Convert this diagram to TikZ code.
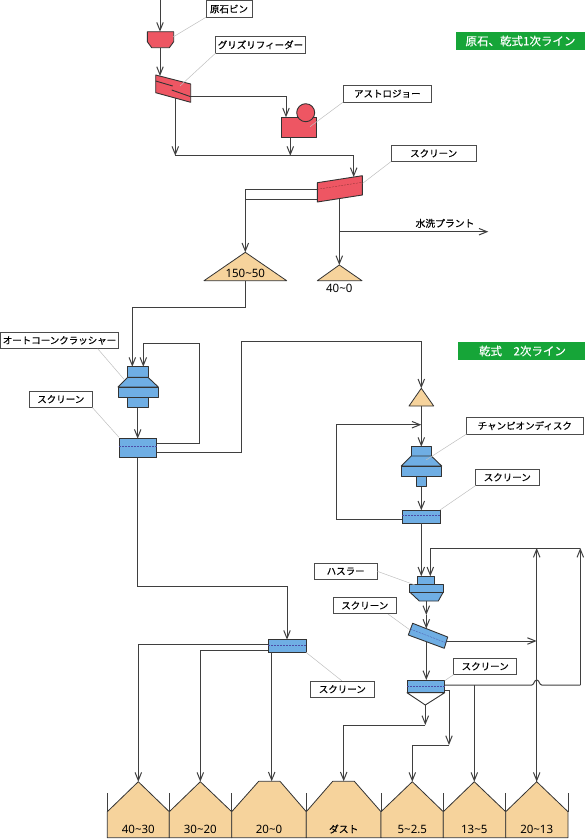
\documentclass[tikz,border=0pt]{standalone}
\usepackage{fontspec}
\setmainfont{Noto Sans CJK JP}
\newfontfamily\tagfont{Noto Sans CJK JP}[RawFeature={embolden=0.35}]
\newfontfamily\numfont{Noto Sans}
\usepackage{tikz}
\usetikzlibrary{positioning, arrows.meta, calc}
\definecolor{lineC}{HTML}{3F3F3F}
\definecolor{redC}{HTML}{EE5663}
\definecolor{blueC}{HTML}{6FAEE4}
\definecolor{tanC}{HTML}{F6D39C}
\definecolor{greenC}{HTML}{16A538}
\newcommand{\til}{\textasciitilde}

\begin{document}
\begin{tikzpicture}[
    x=1pt, y=-1pt,
    flow/.style={draw=lineC, line width=1pt},
    arrow/.style={flow, -{Straight Barb[length=8pt,width=6.5pt]}},
    redunit/.style={draw=black!80, fill=redC, line width=0.9pt, line join=round},
    blueunit/.style={draw=black!80, fill=blueC, line width=0.9pt, line join=round},
    pile/.style={draw=black!80, fill=tanC, line width=0.8pt, line join=round},
    screenbox/.style={rectangle, draw=black!80, fill=blueC, line width=0.9pt, inner sep=0pt, outer sep=0pt},
    mesh/.style={draw=blue!50!black!70, line width=0.3pt, dash pattern=on 2pt off 1pt},
    meshred/.style={draw=red!40!black!80, line width=0.3pt, dash pattern=on 2pt off 1pt},
    tag/.style={rectangle, draw=black!70, fill=white, line width=0.8pt, inner sep=0pt, outer sep=0pt,
                minimum height=16.5pt, font=\tagfont\fontsize{9.5}{11}\selectfont},
    leader/.style={draw=black!25, line width=0.5pt},
    banner/.style={rectangle, fill=greenC, text=white, inner sep=0pt, outer sep=0pt,
                   minimum width=129pt, minimum height=18pt, font=\tagfont\fontsize{11.5}{13}\selectfont},
    pilelabel/.style={inner sep=0pt, font=\numfont\fontsize{11.5}{13}\selectfont}
]
    \useasboundingbox (0,0) rectangle (585,839);

    % --- Banners ---
    \node[banner] (lineA) at (520.5,41) {原石、乾式1次ライン};
    \node[banner] (lineB) at (522.5,351) {乾式\hspace{1em}2次ライン};

    % --- Ports ---
    \coordinate (feedIn) at (160,0);
    \coordinate (binTop) at (160,31.7);
    \coordinate (binBot) at (160,47.7);
    \coordinate (gfTop) at (160,76);
    \coordinate (gfSide) at (190.7,96);
    \coordinate (gfBot) at (175.3,98);
    \coordinate (jawTop) at (286,117.3);
    \coordinate (jawBot) at (290.3,137.7);
    \coordinate (cornerA) at (286,96);
    \coordinate (joinA) at (175.3,155.7);
    \coordinate (joinB) at (290.3,155.7);
    \coordinate (cornerB) at (353.7,155.7);
    \coordinate (scrRedTop) at (353.7,177);
    \coordinate (scrRedU) at (317.3,189.3);
    \coordinate (scrRedL) at (317.3,199.3);
    \coordinate (cornerC) at (245.3,189.3);
    \coordinate (joinC) at (245.3,199.3);
    \coordinate (scrRedBot) at (339.3,199);
    \coordinate (joinD) at (339.3,231.7);
    \coordinate (washOut) at (488.3,231.7);
    \coordinate (pileA) at (245.3,252.3);
    \coordinate (pileAb) at (245.3,280.7);
    \coordinate (pileB) at (339.3,265);
    \coordinate (cornerD) at (245.3,307.3);
    \coordinate (cornerE) at (132.3,307.3);
    \coordinate (coneAin) at (132.3,366.7);
    \coordinate (coneAret) at (143.3,366.7);
    \coordinate (coneAbot) at (137.7,407.3);
    \coordinate (cornerF) at (143.3,343.7);
    \coordinate (cornerG) at (199,343.7);
    \coordinate (cornerH) at (199,443.7);
    \coordinate (scrAu) at (156.7,443.7);
    \coordinate (scrAl) at (156.7,452.7);
    \coordinate (cornerI) at (241.3,452.7);
    \coordinate (cornerJ) at (241.3,341.7);
    \coordinate (cornerK) at (421.3,341.7);
    \coordinate (pileC) at (421.3,388.3);
    \coordinate (pileCb) at (421.3,406);
    \coordinate (joinE) at (421.3,424.7);
    \coordinate (coneBin) at (421.3,446.7);
    \coordinate (coneBbot) at (421.3,486.7);
    \coordinate (cornerL) at (336,424.7);
    \coordinate (cornerM) at (336,519.3);
    \coordinate (scrBw) at (402.3,519.3);
    \coordinate (hasIn) at (421.3,576.3);
    \coordinate (hasRet) at (430.3,576.3);
    \coordinate (cornerN) at (430.3,548);
    \coordinate (retA) at (536.7,548);
    \coordinate (retB) at (580.3,548);
    \coordinate (hasBot) at (426.3,601);
    \coordinate (hasMid) at (426.3,615);
    \coordinate (tiltTop) at (426.3,628.6);
    \coordinate (tiltBot) at (426.3,642);
    \coordinate (tiltE) at (445.5,641);
    \coordinate (joinF) at (536.7,641);
    \coordinate (scrCtop) at (426.3,680);
    \coordinate (scrCu) at (444.7,685);
    \coordinate (scrCl) at (444.7,690);
    \coordinate (joinG) at (474.3,685);
    \coordinate (hopL) at (531.7,685);
    \coordinate (hopT) at (536.7,680);
    \coordinate (hopR) at (541.7,685);
    \coordinate (cornerO) at (580.3,685);
    \coordinate (cornerP) at (449,690);
    \coordinate (joinH) at (449,745);
    \coordinate (cornerQ) at (412.3,745);
    \coordinate (funnelTip) at (425.3,705);
    \coordinate (joinI) at (425.3,725);
    \coordinate (cornerR) at (343.7,725);
    \coordinate (scrAb) at (137.7,457.7);
    \coordinate (cornerS) at (137.7,586);
    \coordinate (cornerT) at (287,586);
    \coordinate (scrDu) at (268.3,644);
    \coordinate (scrDl) at (268.3,650);
    \coordinate (scrDb) at (271.7,652.3);
    \coordinate (cornerU) at (138.3,644);
    \coordinate (cornerV) at (200.3,650);

    \coordinate (topA) at (138.3,781.7);
    \coordinate (topB) at (200.3,781.7);
    \coordinate (topC) at (271.7,781.3);
    \coordinate (topD) at (343.7,781.3);
    \coordinate (topE) at (412.3,781.7);
    \coordinate (topF) at (474.3,781.7);
    \coordinate (topG) at (536.7,781.7);

    % --- Screens ---
    \node[screenbox, minimum width=37.4pt, minimum height=19pt] (scrA) at (138,448.2) {};
    \node[screenbox, minimum width=38pt, minimum height=13pt] (scrB) at (421.3,516.8) {};
    \node[screenbox, minimum width=37.7pt, minimum height=12.6pt] (scrD) at (287.2,646) {};

    % --- Connectors ---
    \draw[arrow] (feedIn) -- (binTop);
    \draw[arrow] (binBot) -- (gfTop);
    \draw[arrow] (gfSide) -- (cornerA) -- (jawTop);
    \draw[arrow] (gfBot) -- (joinA);
    \draw[arrow] (jawBot) -- (joinB);
    \draw[arrow] (joinA) -- (cornerB) -- (scrRedTop);
    \draw[flow] (scrRedU) -- (cornerC) -- (joinC);
    \draw[flow] (scrRedL) -- (joinC);
    \draw[arrow] (joinC) -- (pileA);
    \draw[arrow] (scrRedBot) -- (pileB);
    \draw[arrow] (joinD) -- (washOut);
    \draw[arrow] (pileAb) -- (cornerD) -- (cornerE) -- (coneAin);
    \draw[arrow] (scrAu) -- (cornerH) -- (cornerG) -- (cornerF) -- (coneAret);
    \draw[arrow] (coneAbot) -- (scrA.north -| coneAbot);
    \draw[arrow] (scrAl) -- (cornerI) -- (cornerJ) -- (cornerK) -- (pileC);
    \draw[arrow] (pileCb) -- (coneBin);
    \draw[arrow] (scrBw) -- (cornerM) -- (cornerL) -- (joinE);
    \draw[arrow] (coneBbot) -- (scrB.north);
    \draw[arrow] (scrB.south) -- (hasIn);
    \draw[arrow] (retB) -- (cornerN) -- (hasRet);
    \draw[arrow] (cornerO) -- (retB);
    \draw[arrow] (topG) -- (retA);
    \draw[arrow] (joinF) -- (topG);
    \draw[arrow] (hasBot) -- (hasMid);
    \draw[arrow] (hasMid) -- (tiltTop);
    \draw[arrow] (tiltE) -- (joinF);
    \draw[arrow] (tiltBot) -- (scrCtop);
    \draw[flow] (scrCu) -- (hopL) .. controls (534.2,685) and (534,680) .. (hopT)
      .. controls (539.4,680) and (539.2,685) .. (hopR) -- (cornerO);
    \draw[arrow] (joinG) -- (topF);
    \draw[arrow] (scrCl) -- (cornerP) -- (joinH);
    \draw[arrow] (joinH) -- (cornerQ) -- (topE);
    \draw[arrow] (funnelTip) -- (joinI);
    \draw[arrow] (joinI) -- (cornerR) -- (topD);
    \draw[arrow] (scrAb) -- (cornerS) -- (cornerT) -- (scrD.north -| cornerT);
    \draw[arrow] (scrDu) -- (cornerU) -- (topA);
    \draw[arrow] (scrDl) -- (cornerV) -- (topB);
    \draw[arrow] (scrDb) -- (topC);

    % --- Primary units ---
    \draw[redunit] (147.3,31.7) -- (173.7,31.7) -- (173.7,41.7) -- (169.3,47.7)
      -- (151.7,47.7) -- (147.3,41.7) -- cycle;
    \draw[redunit] (155.7,75) -- (190.7,84) -- (190.7,102.3) -- (155.7,92.7) -- cycle;
    \draw[draw=black!80, line width=0.9pt] (155.7,81) -- (172.7,86);
    \draw[draw=black!80, line width=0.9pt] (171.7,90) -- (190.7,96.7);
    \draw[redunit] (281,117.3) rectangle (316.7,137.7);
    \draw[redunit] (305.7,112.7) circle (9);
    \draw[redunit] (317.3,182.7) -- (362.3,175.7) -- (362.3,195) -- (317.3,202) -- cycle;
    \draw[meshred] (317.3,189.3) -- (362.3,182.3);

    % --- Piles ---
    \draw[pile] (204,280.7) -- (245.3,252.3) -- (286.7,280.7) -- cycle;
    \node[pilelabel] (lblA) at (245.3,273) {150\til50};
    \draw[pile] (317.3,280.7) -- (339.3,265) -- (362,280.7) -- cycle;
    \node[pilelabel] (lblB) at (339.3,288) {40\til0};
    \draw[pile] (409,406) -- (421.3,388.3) -- (433.7,406) -- cycle;

    % --- Secondary units ---
    \draw[blueunit] (127.7,366.7) rectangle (148,377.3);
    \draw[blueunit] (127.3,397) rectangle (148.7,407.3);
    \draw[blueunit] (127.7,377.3) -- (148,377.3) -- (158.3,387) -- (118,387) -- cycle;
    \draw[blueunit] (118,387) rectangle (158.3,397);
    \draw[mesh] (119.3,446.3) -- (156.7,446.3);

    \draw[blueunit] (411.3,446.7) rectangle (431.3,456);
    \draw[blueunit] (416.7,476.7) rectangle (426.3,486.7);
    \draw[blueunit] (411.3,456) -- (431.3,456) -- (441.7,466) -- (401.3,466) -- cycle;
    \draw[blueunit] (401.3,466) rectangle (441.7,476.7);
    \draw[mesh] (402.3,515) -- (440.3,515);

    \draw[blueunit] (417.7,576.3) rectangle (434.7,584);
    \draw[blueunit] (409.7,592) -- (443.3,592) -- (438.3,601) -- (419.3,601) -- cycle;
    \draw[blueunit] (409.7,584) rectangle (443.3,592);
    \draw[blueunit] (412.7,623.3) -- (447.7,637) -- (444.3,648.3) -- (408.3,635) -- cycle;
    \draw[mesh] (410.5,629.2) -- (446,642.7);

    \draw[draw=black!80, fill=white, line width=0.9pt, line join=round]
      (407,692.7) -- (444.7,692.7) -- (funnelTip) -- cycle;
    \node[screenbox, minimum width=37.7pt, minimum height=12.7pt] (scrC) at (425.8,686.3) {};
    \draw[mesh] (407,686) -- (444.7,686);

    \draw[mesh] (268.3,645) -- (306,645);

    % --- Tags ---
    \node[tag, minimum width=46pt] (tagBin) at (229,9) {原石ビン};
    \node[tag, minimum width=89.6pt] (tagGrizzly) at (260.5,44.8) {グリズリフィーダー};
    \node[tag, minimum width=88pt] (tagJaw) at (387.3,93.7) {アストロジョー};
    \node[tag, minimum width=85.3pt] (tagScrRed) at (433.7,153.3) {スクリーン};
    \node[tag, minimum width=117.6pt] (tagConeA) at (59.5,340.5) {オートコーンクラッシャー};
    \node[tag, minimum width=63pt] (tagScrA) at (60.8,399.2) {スクリーン};
    \node[tag, minimum width=116.3pt] (tagConeB) at (524.8,425.7) {チャンピオンディスク};
    \node[tag, minimum width=63.3pt] (tagScrB) at (507.3,477.3) {スクリーン};
    \node[tag, minimum width=63.3pt] (tagHas) at (345.7,571.3) {ハスラー};
    \node[tag, minimum width=63pt] (tagTilt) at (364.8,605.5) {スクリーン};
    \node[tag, minimum width=63pt] (tagScrC) at (485.2,666.3) {スクリーン};
    \node[tag, minimum width=63.3pt] (tagScrD) at (342.3,689.2) {スクリーン};
    \node[inner sep=0pt, font=\tagfont\fontsize{9.8}{11}\selectfont] (wash) at (445,223.3) {水洗プラント};

    % --- Leaders ---
    \coordinate (hitBin) at (173,37);
    \coordinate (hitGrizzly) at (180,86);
    \coordinate (hitJaw) at (310,126.7);
    \coordinate (hitScrRed) at (362.7,183.3);
    \coordinate (hitConeA) at (124,379.3);
    \coordinate (hitScrA) at (119,437.3);
    \coordinate (hitConeB) at (426,460);
    \coordinate (hitScrB) at (440,510);
    \coordinate (hitHas) at (415,585);
    \coordinate (hitTilt) at (410,630);
    \coordinate (hitScrC) at (444.7,680.7);
    \coordinate (hitScrD) at (306,652.3);
    \coordinate (footConeA) at (97.7,348.7);
    \coordinate (footTilt) at (388,614);
    \coordinate (footScrD) at (341.7,680.7);

    \draw[leader] (tagBin.south west) -- (hitBin);
    \draw[leader] (tagGrizzly.south west) -- (hitGrizzly);
    \draw[leader] (tagJaw.south west) -- (hitJaw);
    \draw[leader] (tagScrRed.south west) -- (hitScrRed);
    \draw[leader] (footConeA) -- (hitConeA);
    \draw[leader] (tagScrA.south east) -- (hitScrA);
    \draw[leader] (tagConeB.south west) -- (hitConeB);
    \draw[leader] (tagScrB.south west) -- (hitScrB);
    \draw[leader] (tagHas.east) -- (hitHas);
    \draw[leader] (footTilt) -- (hitTilt);
    \draw[leader] (tagScrC.south west) -- (hitScrC);
    \draw[leader] (footScrD) -- (hitScrD);

    % --- Bins ---
    \draw[pile] (107.3,811.7) -- (topA) -- (169.3,811.7) -- (169.3,837.7) -- (107.3,837.7) -- cycle;
    \draw[pile] (169.3,811.7) -- (topB) -- (231.7,811.7) -- (231.7,837.7) -- (169.3,837.7) -- cycle;
    \draw[pile] (231.7,811.7) -- (258.7,781.3) -- (280,781.3) -- (306.3,811.7) -- (306.3,837.7) -- (231.7,837.7) -- cycle;
    \draw[pile] (306.3,811.7) -- (332.7,781.3) -- (354.3,781.3) -- (381,811.7) -- (381,837.7) -- (306.3,837.7) -- cycle;
    \draw[pile] (381,811.7) -- (topE) -- (443.3,811.7) -- (443.3,837.7) -- (381,837.7) -- cycle;
    \draw[pile] (443.3,811.7) -- (topF) -- (505.7,811.7) -- (505.7,837.7) -- (443.3,837.7) -- cycle;
    \draw[pile] (505.7,811.7) -- (topG) -- (568,811.7) -- (568,837.7) -- (505.7,837.7) -- cycle;

    \draw[flow] (107.3,793.3) -- (107.3,811.7);
    \draw[flow] (169.3,793.3) -- (169.3,811.7);
    \draw[flow] (231.7,793.3) -- (231.7,811.7);
    \draw[flow] (306.3,793.3) -- (306.3,811.7);
    \draw[flow] (381,793.3) -- (381,811.7);
    \draw[flow] (443.3,793.3) -- (443.3,811.7);
    \draw[flow] (505.7,793.3) -- (505.7,811.7);
    \draw[flow] (568,793.3) -- (568,811.7);

    \node[pilelabel] (binA) at (138.3,829) {40\til30};
    \node[pilelabel] (binB) at (200.3,829) {30\til20};
    \node[pilelabel] (binC) at (269,829) {20\til0};
    \node[inner sep=0pt, font=\tagfont\fontsize{9.8}{11}\selectfont] (binD) at (343.7,829) {ダスト};
    \node[pilelabel] (binE) at (412.3,829) {5\til2.5};
    \node[pilelabel] (binF) at (474.3,829) {13\til5};
    \node[pilelabel] (binG) at (536.7,829) {20\til13};
\end{tikzpicture}
\end{document}
